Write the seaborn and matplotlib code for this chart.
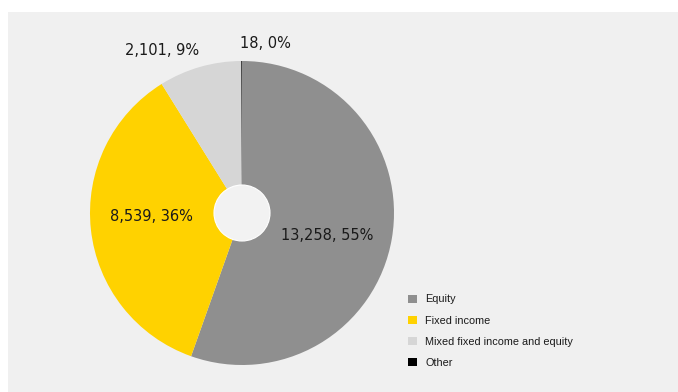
import matplotlib
matplotlib.use("Agg")
import matplotlib.pyplot as plt
from matplotlib.patches import Rectangle, Circle, Patch
import seaborn as sns

# Assets by fund type
categories = ["Equity", "Fixed income", "Mixed fixed income and equity", "Other"]
values = [13258, 8539, 2101, 18]
colors = ["#8f8f8f", "#ffd200", "#d6d6d6", "#000000"]

# Label anchor points (pie-radius units, relative to centre)
label_pos = [(0.56, -0.15), (-0.596, -0.024), (-0.523, 1.072), (0.156, 1.118)]

sns.set_theme(style="white")
plt.rcParams["font.family"] = ["DejaVu Sans"]

W, H = 678, 392
fig = plt.figure(figsize=(W / 100, H / 100), dpi=100, facecolor="white")

# light grey panel behind everything
fig.patches.append(Rectangle((8 / W, 0), (W - 8) / W, (H - 12) / H,
                             transform=fig.transFigure, facecolor="#f0f0f0",
                             edgecolor="none", zorder=-10))

cx, cy, r = 242, H - 213, 152
ax = fig.add_axes([(cx - r) / W, (cy - r) / H, 2 * r / W, 2 * r / H])
ax.set_facecolor("none")
ax.set_zorder(2)

wedges, _ = ax.pie(values, colors=colors, startangle=90, counterclock=False,
                   radius=1, wedgeprops=dict(linewidth=0))
ax.add_patch(Circle((0, 0), 28 / r, facecolor="#f2f2f2", edgecolor="white",
                    linewidth=0.8, zorder=5))
ax.set_xlim(-1, 1)
ax.set_ylim(-1, 1)
ax.set_aspect("equal")
ax.axis("off")

total = sum(values)
for v, (x, y) in zip(values, label_pos):
    ax.text(x, y, f"{v:,}, {round(v / total * 100):.0f}%", ha="center",
            va="center", fontsize=10.5, color="#1a1a1a", zorder=6)

handles = [Patch(facecolor=c, edgecolor="none") for c in colors]
fig.legend(handles, categories, loc="upper left",
           bbox_to_anchor=(408 / W, 1 - 294.5 / H), bbox_transform=fig.transFigure,
           frameon=False, prop={"family": "Liberation Sans", "size": 7.8},
           handlelength=0.8, handleheight=0.8, handletextpad=0.8,
           labelspacing=1.03, borderpad=0, borderaxespad=0, labelcolor="#1a1a1a")

fig.savefig("out.png", dpi=100, facecolor="white")
